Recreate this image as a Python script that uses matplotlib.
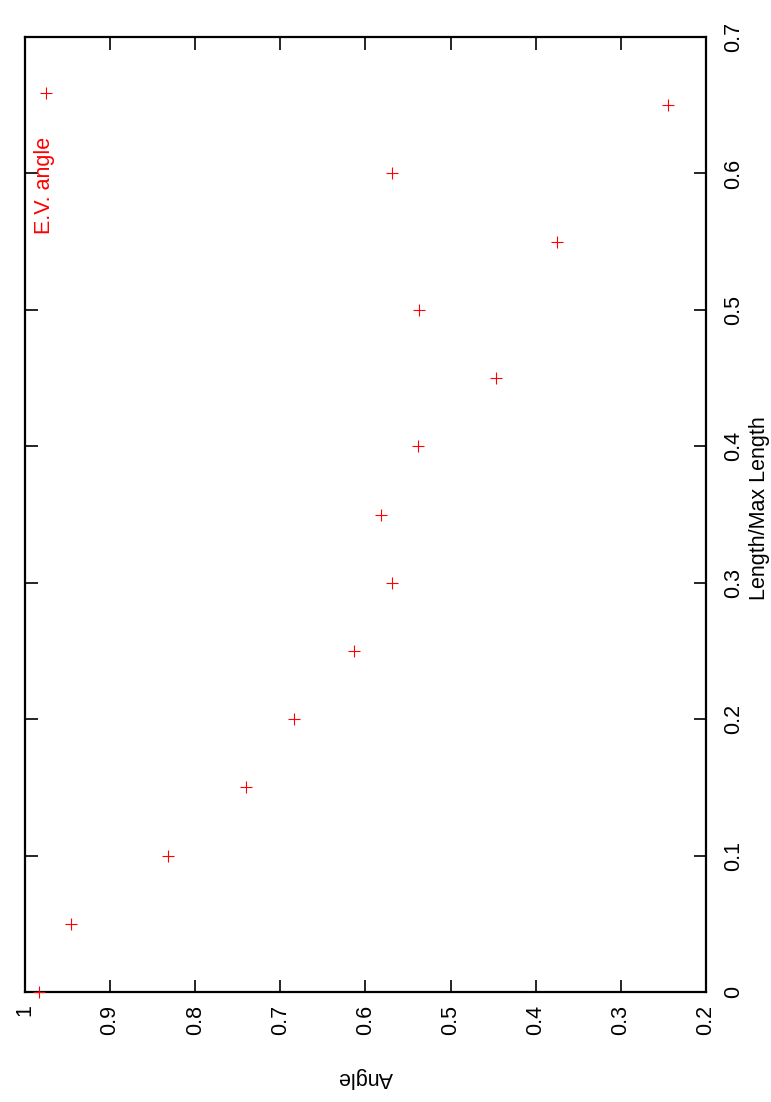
import matplotlib
matplotlib.use('Agg')
from matplotlib import pyplot as plt
from matplotlib.ticker import FuncFormatter

length_ratio = [0.0, 0.05, 0.1, 0.15, 0.2, 0.25, 0.3, 0.35, 0.4, 0.45, 0.5, 0.55, 0.6, 0.65]
ev_angle = [0.984, 0.946, 0.832, 0.740, 0.684, 0.614, 0.569, 0.582, 0.538, 0.447, 0.537, 0.375, 0.569, 0.245]

angle_ticks = [1, 0.9, 0.8, 0.7, 0.6, 0.5, 0.4, 0.3, 0.2]
length_ticks = [0, 0.1, 0.2, 0.3, 0.4, 0.5, 0.6, 0.7]

plt.rcParams['font.family'] = ['Liberation Sans', 'DejaVu Sans']
fs = 15.5

fig = plt.figure(figsize=(7.71, 11.02), dpi=100)
ax = fig.add_axes([0.0324, 0.0998, 0.8833, 0.8666])

# page is turned 90 degrees: Angle runs along the bottom (reversed), Length up the right side
ax.plot(ev_angle, length_ratio, '+', color='red', markersize=8, markeredgewidth=0.8,
        linestyle='none', clip_on=False, zorder=3)
ax.set_xlim(1, 0.2)
ax.set_ylim(0, 0.7)

ax.set_xticks(angle_ticks)
ax.set_yticks(length_ticks)
ax.xaxis.set_major_formatter(FuncFormatter(lambda v, p: '%g' % round(v, 2)))
ax.yaxis.set_major_formatter(FuncFormatter(lambda v, p: '%g' % round(v, 2)))

ax.tick_params(axis='both', direction='in', length=9, width=1.2,
               top=True, bottom=True, left=True, right=True,
               labelleft=False, labelright=True, labelsize=fs)
ax.tick_params(axis='x', labelrotation=90, pad=9)
ax.tick_params(axis='y', labelrotation=90, pad=12)
for lab in ax.get_yticklabels():
    lab.set_va('center')

for s in ax.spines.values():
    s.set_linewidth(1.6)

# key (marker above the rotated text)
ax.plot([0.031], [0.941], '+', color='red', markersize=8, markeredgewidth=0.8,
        transform=ax.transAxes, clip_on=False)
ax.text(0.029, 0.845, 'E.V. angle', color='red', fontsize=fs, rotation=90,
        ha='center', va='center', transform=ax.transAxes)

fig.text(0.474, 0.022, 'Angle', fontsize=fs, rotation=180, ha='center', va='center')
fig.text(0.985, 0.539, 'Length/Max Length', fontsize=fs, rotation=90,
         ha='center', va='center')

plt.savefig('out.png', dpi=100)
plt.close()
